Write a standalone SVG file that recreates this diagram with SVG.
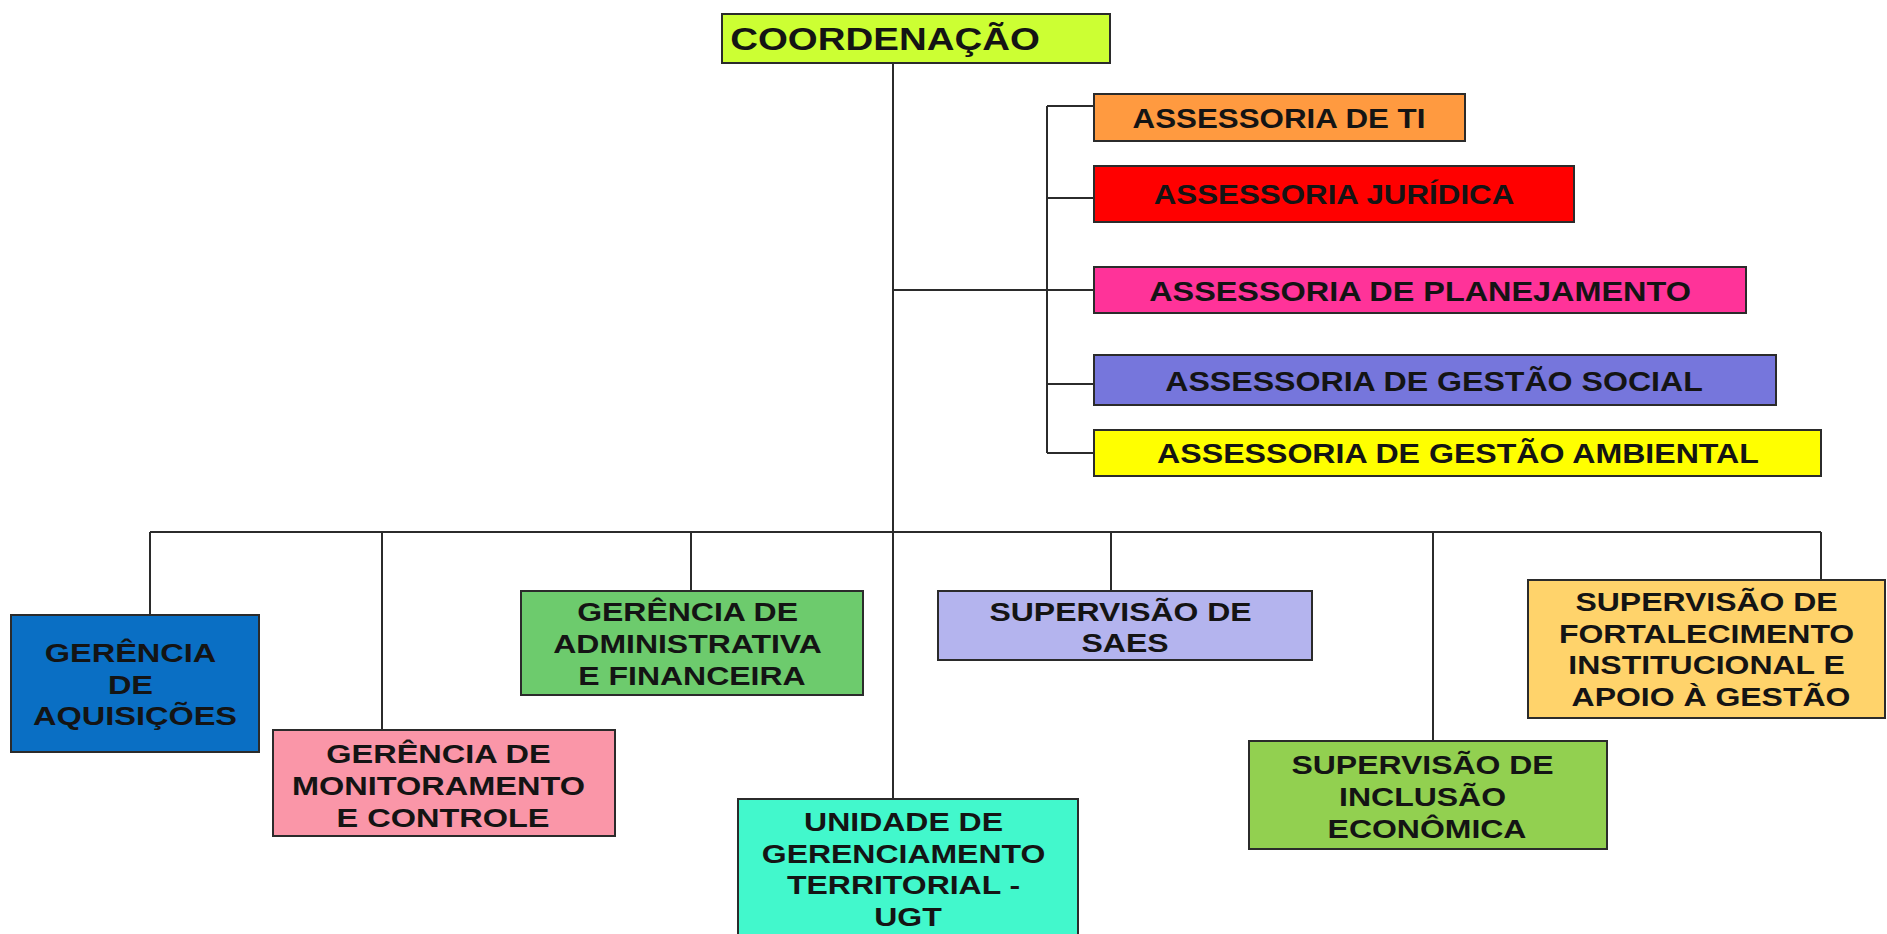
<svg xmlns="http://www.w3.org/2000/svg" width="1887" height="934" viewBox="0 0 1887 934">
<style>
  .bg { fill: #ffffff; }
  .box { stroke: #2b2b2b; stroke-width: 2; }
  .t { font-family: "Liberation Sans", Arial, sans-serif; font-weight: bold; fill: #141414; text-anchor: middle; }
  .s26 { font-size: 26px; }
  .s27 { font-size: 27px; }
  .s31 { font-size: 31px; }
  .conn line { stroke: #2b2b2b; stroke-width: 2; fill: none; }
</style>
<rect class="bg" x="0" y="0" width="1887" height="934"/>

<g id="connectors" class="conn">
  <line x1="893" y1="63" x2="893" y2="799"/>
  <line x1="893" y1="290" x2="1094" y2="290"/>
  <line x1="1047" y1="106" x2="1047" y2="453"/>
  <line x1="1047" y1="106" x2="1094" y2="106"/>
  <line x1="1047" y1="198" x2="1094" y2="198"/>
  <line x1="1047" y1="384" x2="1094" y2="384"/>
  <line x1="1047" y1="453" x2="1094" y2="453"/>
  <line x1="150" y1="532" x2="1821" y2="532"/>
  <line x1="150" y1="532" x2="150" y2="615"/>
  <line x1="382" y1="532" x2="382" y2="730"/>
  <line x1="691" y1="532" x2="691" y2="591"/>
  <line x1="1111" y1="532" x2="1111" y2="591"/>
  <line x1="1433" y1="532" x2="1433" y2="741"/>
  <line x1="1821" y1="532" x2="1821" y2="580"/>
</g>

<g id="coordenacao">
  <rect class="box" x="722" y="14" width="388" height="49" fill="#ccff33"/>
  <text class="t s31" transform="translate(885 0) scale(1.24 1)" x="0" y="50">COORDENAÇÃO</text>
</g>

<g id="assessoria-ti">
  <rect class="box" x="1094" y="94" width="371" height="47" fill="#ff9a40"/>
  <text class="t s27" transform="translate(1279 0) scale(1.16 1)" x="0" y="128">ASSESSORIA DE TI</text>
</g>

<g id="assessoria-juridica">
  <rect class="box" x="1094" y="166" width="480" height="56" fill="#ff0000"/>
  <text class="t s27" transform="translate(1334 0) scale(1.16 1)" x="0" y="204">ASSESSORIA JURÍDICA</text>
</g>

<g id="assessoria-planejamento">
  <rect class="box" x="1094" y="267" width="652" height="46" fill="#ff3399"/>
  <text class="t s27" transform="translate(1420 0) scale(1.2 1)" x="0" y="301">ASSESSORIA DE PLANEJAMENTO</text>
</g>

<g id="assessoria-gestao-social">
  <rect class="box" x="1094" y="355" width="682" height="50" fill="#7676dc"/>
  <text class="t s27" transform="translate(1434 0) scale(1.19 1)" x="0" y="391">ASSESSORIA DE GESTÃO SOCIAL</text>
</g>

<g id="assessoria-gestao-ambiental">
  <rect class="box" x="1094" y="430" width="727" height="46" fill="#ffff00"/>
  <text class="t s27" transform="translate(1458 0) scale(1.19 1)" x="0" y="463">ASSESSORIA DE GESTÃO AMBIENTAL</text>
</g>

<g id="gerencia-aquisicoes">
  <rect class="box" x="11" y="615" width="248" height="137" fill="#0a6fc4"/>
  <text class="t s26" transform="translate(135 0) scale(1.25 1)">
    <tspan x="0" y="662">GERÊNCIA</tspan>
    <tspan x="0" y="694">DE</tspan>
    <tspan x="0" y="725">AQUISIÇÕES</tspan>
  </text>
</g>

<g id="gerencia-monitoramento">
  <rect class="box" x="273" y="730" width="342" height="106" fill="#fa96a8"/>
  <text class="t s26" transform="translate(443 0) scale(1.25 1)">
    <tspan x="0" y="763">GERÊNCIA DE</tspan>
    <tspan x="0" y="795">MONITORAMENTO</tspan>
    <tspan x="0" y="827">E CONTROLE</tspan>
  </text>
</g>

<g id="gerencia-administrativa">
  <rect class="box" x="521" y="591" width="342" height="104" fill="#6dcb6d"/>
  <text class="t s26" transform="translate(692 0) scale(1.23 1)">
    <tspan x="0" y="621">GERÊNCIA DE</tspan>
    <tspan x="0" y="653">ADMINISTRATIVA</tspan>
    <tspan x="0" y="685">E FINANCEIRA</tspan>
  </text>
</g>

<g id="ugt">
  <rect class="box" x="738" y="799" width="340" height="145" fill="#42f8cc"/>
  <text class="t s26" transform="translate(908 0) scale(1.23 1)">
    <tspan x="0" y="831">UNIDADE DE</tspan>
    <tspan x="0" y="863">GERENCIAMENTO</tspan>
    <tspan x="0" y="894">TERRITORIAL -</tspan>
    <tspan x="0" y="926">UGT</tspan>
  </text>
</g>

<g id="supervisao-saes">
  <rect class="box" x="938" y="591" width="374" height="69" fill="#b4b4ee"/>
  <text class="t s26" transform="translate(1125 0) scale(1.23 1)">
    <tspan x="0" y="621">SUPERVISÃO DE</tspan>
    <tspan x="0" y="652">SAES</tspan>
  </text>
</g>

<g id="supervisao-inclusao">
  <rect class="box" x="1249" y="741" width="358" height="108" fill="#92d050"/>
  <text class="t s26" transform="translate(1427 0) scale(1.23 1)">
    <tspan x="0" y="774">SUPERVISÃO DE</tspan>
    <tspan x="0" y="806">INCLUSÃO</tspan>
    <tspan x="0" y="838">ECONÔMICA</tspan>
  </text>
</g>

<g id="supervisao-fortalecimento">
  <rect class="box" x="1528" y="580" width="357" height="138" fill="#ffd36b"/>
  <text class="t s26" transform="translate(1711 0) scale(1.23 1)">
    <tspan x="0" y="611">SUPERVISÃO DE</tspan>
    <tspan x="0" y="643">FORTALECIMENTO</tspan>
    <tspan x="0" y="674">INSTITUCIONAL E</tspan>
    <tspan x="0" y="706">APOIO À GESTÃO</tspan>
  </text>
</g>
</svg>
